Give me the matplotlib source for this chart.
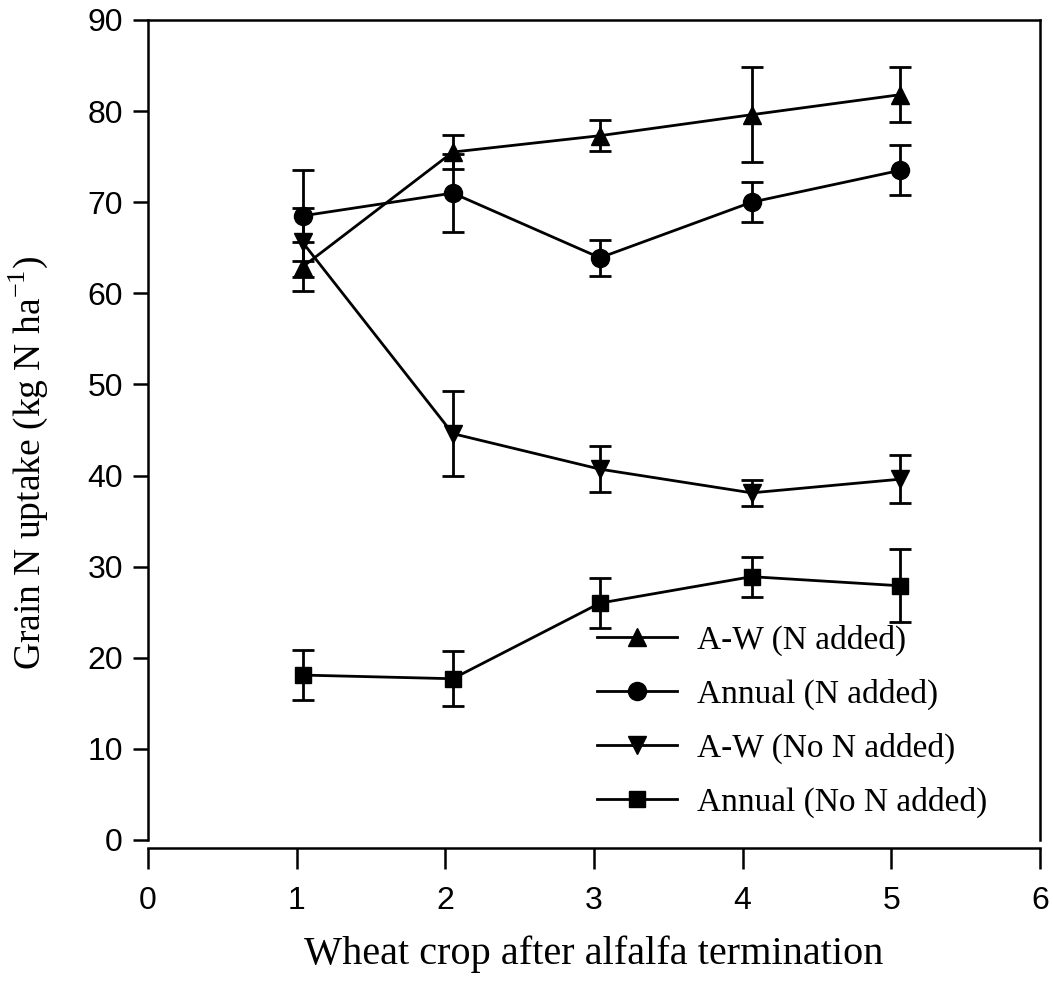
import matplotlib
matplotlib.use("Agg")
import matplotlib.pyplot as plt

plt.rcParams['mathtext.fontset'] = 'custom'
plt.rcParams['mathtext.rm'] = 'Liberation Serif'

# wheat crop number (points sit a bit right of the integer ticks)
crop_x = [1.04, 2.05, 3.04, 4.06, 5.06]

aw_n = [62.9, 75.5, 77.3, 79.6, 81.8]
aw_n_err = [2.7, 1.9, 1.7, 5.2, 3.0]
annual_n = [68.5, 71.0, 63.9, 70.0, 73.5]
annual_n_err = [5.0, 4.3, 2.0, 2.2, 2.75]
aw_non = [65.6, 44.6, 40.7, 38.1, 39.6]
aw_non_err = [3.8, 4.7, 2.5, 1.4, 2.6]
annual_non = [18.1, 17.7, 26.0, 28.9, 27.9]
annual_non_err = [2.7, 3.0, 2.7, 2.2, 4.0]

labels = ['A-W (N added)', 'Annual (N added)', 'A-W (No N added)', 'Annual (No N added)']
markers = ['^', 'o', 'v', 's']
msizes = [13, 13, 13, 11.5]

fig = plt.figure(figsize=(10.53, 9.88), dpi=100)
ax = fig.add_axes([0.1405, 0.1498, 0.8472, 0.830])

series = [(aw_n, aw_n_err), (annual_n, annual_n_err), (aw_non, aw_non_err), (annual_non, annual_non_err)]
handles = []
for (vals, errs), m, ms, lab in zip(series, markers, msizes, labels):
    c = ax.errorbar(crop_x, vals, yerr=errs, color='black', marker=m, markersize=ms,
                    linewidth=2, elinewidth=2, capsize=8, capthick=2, label=lab)
    handles.append(c[0])  # legend shows line + marker only

ax.set_xlim(0, 6)
ax.set_ylim(0, 90)
ax.set_xticks(range(0, 7))
ax.set_yticks(range(0, 100, 10))

# detach the x axis a little below the zero line
ax.spines['bottom'].set_position(('outward', 6))
for s in ax.spines.values():
    s.set_linewidth(1.8)

ax.tick_params(axis='y', direction='out', length=11, width=1.8, pad=7)
ax.tick_params(axis='x', direction='out', length=15, width=1.8, pad=12)
for t in ax.get_xticklabels() + ax.get_yticklabels():
    t.set_fontfamily('Liberation Sans')
    t.set_fontsize(23)

ax.set_xlabel('Wheat crop after alfalfa termination', family='Liberation Serif', fontsize=29, labelpad=14)
ax.set_ylabel(r'Grain N uptake (kg N ha$^{\mathrm{-1}}$)', family='Liberation Serif', fontsize=27)
ax.yaxis.set_label_coords(-0.11, 0.46)

ax.legend(handles, labels, loc='upper left', bbox_to_anchor=(0.503, 0.262), frameon=False, borderpad=0,
          prop={'family': 'Liberation Serif', 'size': 24}, handlelength=2.4, handletextpad=0.6,
          labelspacing=0.68, borderaxespad=0)

fig.savefig('out.png', dpi=100)
